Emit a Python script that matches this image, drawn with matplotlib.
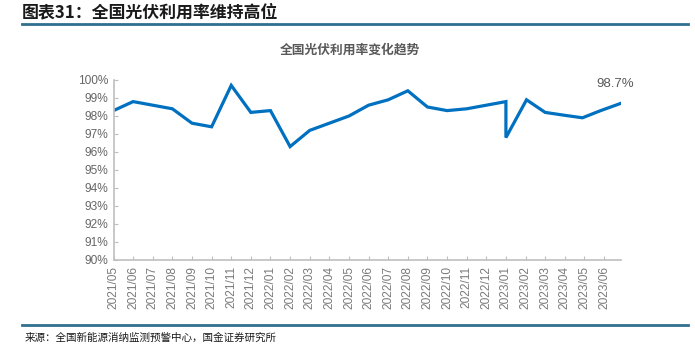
import matplotlib
matplotlib.use("Agg")
import matplotlib.pyplot as plt
from matplotlib.lines import Line2D
from matplotlib.ticker import FuncFormatter, FixedLocator

plt.rcParams['font.family'] = ['Liberation Sans', 'Noto Sans CJK SC', 'DejaVu Sans']

# ---- data ----
tick_labels = ["2021/05", "2021/06", "2021/07", "2021/08", "2021/09", "2021/10",
               "2021/11", "2021/12", "2022/01", "2022/02", "2022/03", "2022/04",
               "2022/05", "2022/06", "2022/07", "2022/08", "2022/09", "2022/10",
               "2022/11", "2022/12", "2023/01", "2023/02", "2023/03", "2023/04",
               "2023/05", "2023/06"]
# position of each observation on the month axis (0 = 2021/05)
x_months = [0, 1, 2, 3, 4, 5, 6, 7, 8, 9, 10, 11, 12, 13, 14, 15, 16, 17, 18,
            19, 20, 20, 21.05, 22.0, 22.92, 23.9, 24.83, 25.85]
utilization = [98.3, 98.8, 98.6, 98.4, 97.6, 97.4, 99.7, 98.2, 98.3, 96.3,
               97.2, 97.6, 98.0, 98.6, 98.9, 99.4, 98.5, 98.3, 98.4, 98.6,
               98.8, 96.8, 98.9, 98.2, 98.05, 97.9, 98.3, 98.7]
last_label = "98.7%"

W, H = 695, 358
fig = plt.figure(figsize=(W / 100, H / 100), dpi=100)

# report header
fig.text(22 / W, 1 - 12 / H, "图表31：全国光伏利用率维持高位",
         family=['Noto Sans CJK SC', 'DejaVu Sans'], fontsize=12.2,
         fontweight='bold', color='#1a1a1a', ha='left', va='center')
fig.add_artist(Line2D([22 / W, 688 / W], [1 - 24 / H, 1 - 24 / H],
                      color='#31708f', lw=2, transform=fig.transFigure))
fig.add_artist(Line2D([22 / W, 688 / W], [1 - 325 / H, 1 - 325 / H],
                      color='#31708f', lw=2, transform=fig.transFigure))
fig.text(25 / W, 1 - 338 / H, "来源：全国新能源消纳监测预警中心，国金证券研究所",
         family=['Noto Sans CJK SC', 'DejaVu Sans'], fontsize=7.6,
         color='#1a1a1a', ha='left', va='center')

# chart title
fig.text(350 / W, 1 - 50 / H, "全国光伏利用率变化趋势",
         family=['Noto Sans CJK SC', 'DejaVu Sans'], fontsize=9.2,
         fontweight='bold', color='#595959', ha='center', va='center')

ax = fig.add_axes([113.5 / W, 1 - 260 / H, (620.7 - 113.5) / W, 180 / H])
ax.plot(x_months, utilization, color='#0070C0', lw=2.3, solid_joinstyle='miter')
ax.set_xlim(0, 25.85)
ax.set_ylim(90, 100)
ax.set_yticks(range(90, 101))
ax.yaxis.set_major_formatter(FuncFormatter(lambda v, p: f"{int(v)}%"))
ax.xaxis.set_major_locator(FixedLocator(list(range(len(tick_labels)))))
ax.set_xticklabels(tick_labels, rotation=90)

for s in ['top', 'right']:
    ax.spines[s].set_visible(False)
for s in ['left', 'bottom']:
    ax.spines[s].set_color('#bfbfbf')
    ax.spines[s].set_linewidth(1.2)
ax.tick_params(axis='both', direction='in', length=3, color='#bfbfbf',
               labelsize=8.6)
ax.tick_params(axis='y', pad=4, labelcolor='#666666')
ax.tick_params(axis='x', pad=4, labelcolor='#7a7a7a')

ax.annotate(last_label, (x_months[-1], utilization[-1]), xytext=(-4, 10),
            textcoords='offset points', ha='center', va='bottom',
            color='#595959', fontsize=9.5, annotation_clip=False)

fig.savefig("out.png", dpi=100)
